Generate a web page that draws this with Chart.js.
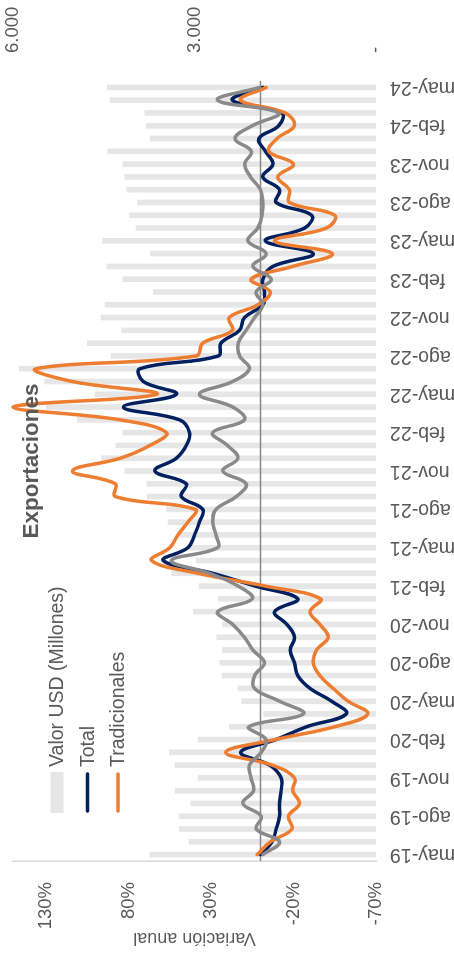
<!DOCTYPE html>
<html><head><meta charset="utf-8">
<script src="https://cdn.jsdelivr.net/npm/chart.js@4/dist/chart.umd.min.js"></script>
<style>
html,body{margin:0;padding:0;background:#fff;overflow:hidden;width:454px;height:957px;}
#wrap{position:absolute;left:0;top:0;width:957px;height:454px;transform-origin:0 0;transform:translate(0px,957px) rotate(-90deg);}
canvas{display:block;}
</style></head><body>
<div id="wrap"><canvas id="c" width="957" height="454"></canvas></div>
<script>
const categories = ['may-19','jun-19','jul-19','ago-19','sep-19','oct-19','nov-19','dic-19',
'ene-20','feb-20','mar-20','abr-20','may-20','jun-20','jul-20','ago-20','sep-20','oct-20','nov-20','dic-20',
'ene-21','feb-21','mar-21','abr-21','may-21','jun-21','jul-21','ago-21','sep-21','oct-21','nov-21','dic-21',
'ene-22','feb-22','mar-22','abr-22','may-22','jun-22','jul-22','ago-22','sep-22','oct-22','nov-22','dic-22',
'ene-23','feb-23','mar-23','abr-23','may-23','jun-23','jul-23','ago-23','sep-23','oct-23','nov-23','dic-23',
'ene-24','feb-24','mar-24','abr-24','may-24'];
const xTickLabels = ['may-19','ago-19','nov-19','feb-20','may-20','ago-20','nov-20','feb-21','may-21','ago-21',
'nov-21','feb-22','may-22','ago-22','nov-22','feb-23','may-23','ago-23','nov-23','feb-24','may-24'];
const valorUSD = [3740,3090,3250,3255,3060,3320,2940,3320,3415,2940,2425,1860,2220,2280,2545,2580,2540,2630,2535,3020,
2605,2925,3375,2975,3075,3240,3435,3460,3780,3790,4150,4535,4300,4185,4935,5445,4645,5480,5895,4380,
4770,4205,4545,4480,3680,4185,4450,3725,4520,3965,4075,3940,4120,4150,4185,4435,3735,3800,3820,4395,4440];
const total = [0,-7,-9.5,-11.5,-11.5,-12.5,-12.5,-5.5,12,-9.5,-28,-52,-43,-30,-22.6,-20.6,-18,-20.6,-16,-8.5,
-22.6,3,29,59,44,40,37,35,48,45,64,51,45,43,49,83,51,71,73,25.5,
24,12.7,9.7,-1.4,-2.4,-1.4,-7.5,-32,-3,-26.7,-31,-9.5,-11.5,-1.4,-7.5,-3,1,-11,-13,17,-1.4];
const tradicionales = [2,-6,-19,-17,-23.6,-19.6,-20.6,-7,21,-9,-45,-65,-53,-44,-36,-32,-34,-41,-36,-30,
-36.5,-3,38,66,55,50,44,39.5,88,88,114,85,67,57,85,150,63,114,136,39,
35,17,19,1.6,-5.9,5.7,-19.6,-43.5,-8.5,-40,-45,-17.5,-17.5,-10.5,-20,-5,-10,-20.5,-15,12,-3.4];
const noTradicionales = [-1.4,-11.5,2.6,-0.4,10.7,4.2,5.7,6.7,-0.4,-3.4,7,-26,-11.5,3.6,3.6,-2.4,4.6,9.7,16.8,25.9,
5,13.5,31,54,26,27,29,27,14.7,8.7,22.8,13.7,20,29,9.7,16.8,37,16.8,6.7,12.7,
13.5,8.7,3.6,-1.4,2.6,-6.5,4.6,-3.4,7.7,1.6,-1,-1.4,0,6,9.5,5.5,15.5,5,-11,26,0.6];
const pctTicks = [-70,-20,30,80,130];
const usdTicks = [0,3000,6000];

const FONT = '"Liberation Sans", Arial, sans-serif';
const TXT = '#595959';

const zeroLine = {
  id:'zeroLine',
  afterDatasetDraw(chart, args){
    if (args.index !== 0) return;
    const {ctx, chartArea:a, scales:{y}} = chart;
    const py = y.getPixelForValue(0);
    ctx.save(); ctx.strokeStyle='#868686'; ctx.lineWidth=1.5;
    ctx.beginPath(); ctx.moveTo(a.left,py); ctx.lineTo(a.right,py); ctx.stroke(); ctx.restore();
  }
};
const overlayTitle = {
  id:'overlayTitle',
  afterDraw(chart){
    const ctx = chart.ctx; ctx.save();
    ctx.font = 'bold 22.5px ' + FONT; ctx.fillStyle = TXT;
    ctx.textAlign = 'center'; ctx.textBaseline = 'alphabetic';
    ctx.fillText('Exportaciones', 496, 38); ctx.restore();
  }
};
const boxLegend = {
  id:'boxLegend',
  afterDraw(chart){
    const ctx = chart.ctx; const x0 = 144, keyW = 41, textX = 190; const rows = [57, 87.5, 118];
    let r = 0;
    chart.data.datasets.forEach(ds => {
      if (ds.hideInLegend) return;
      const yy = rows[r++];
      ctx.save();
      if (ds.type === 'line') {
        ctx.strokeStyle = ds.borderColor; ctx.lineWidth = 3.5; ctx.lineCap = 'round';
        ctx.beginPath(); ctx.moveTo(x0 + 2, yy); ctx.lineTo(x0 + keyW - 2, yy); ctx.stroke();
      } else {
        ctx.fillStyle = ds.backgroundColor; ctx.fillRect(x0, yy - 6.5, keyW, 13);
      }
      ctx.fillStyle = TXT; ctx.font = '19.5px ' + FONT; ctx.textBaseline = 'middle';
      ctx.fillText(ds.label, textX, yy + 1);
      ctx.restore();
    });
  }
};
const noPad = s => { s.paddingTop = 0; s.paddingBottom = 0; s.paddingLeft = 0; s.paddingRight = 0; };

new Chart(document.getElementById('c'), {
  type:'bar',
  data:{
    labels: categories,
    datasets:[
      {label:'Valor USD (Millones)', data:valorUSD, yAxisID:'y1', backgroundColor:'#E7E6E6', barThickness:5, order:4},
      {type:'line', label:'Total', data:total, yAxisID:'y', borderColor:'#002060', borderWidth:3.5, pointRadius:0, tension:0.4, borderCapStyle:'round', borderJoinStyle:'round', clip:6, order:3},
      {type:'line', label:'Tradicionales', data:tradicionales, yAxisID:'y', borderColor:'#ED7D31', borderWidth:3.5, pointRadius:0, tension:0.4, borderCapStyle:'round', borderJoinStyle:'round', clip:6, order:2},
      {type:'line', label:'No tradicionales', hideInLegend:true, data:noTradicionales, yAxisID:'y', borderColor:'#8A8A8A', borderWidth:3.5, pointRadius:0, tension:0.4, borderCapStyle:'round', borderJoinStyle:'round', clip:6, order:1}
    ]
  },
  options:{
    responsive:false, animation:false, devicePixelRatio:1,
    layout:{padding:{top:13,left:0,right:0,bottom:0}},
    plugins:{legend:{display:false}, tooltip:{enabled:false}, title:{display:false}},
    scales:{
      x:{
        grid:{display:false, drawTicks:false}, border:{display:false},
        ticks:{autoSkip:false, minRotation:90, maxRotation:90, padding:14, color:TXT, font:{family:FONT, size:19.5},
          callback:(v,i)=> xTickLabels.includes(categories[i]) ? categories[i] : ''},
        afterFit:s=>{ s.height = 78; noPad(s); }
      },
      y:{
        position:'left', min:-70, max:150,
        grid:{display:false, drawTicks:false}, border:{display:true, color:'#D9D9D9', width:1.5},
        afterBuildTicks:s=>{ s.ticks = pctTicks.map(v=>({value:v})); },
        ticks:{padding:21, color:TXT, font:{family:FONT, size:18.5}, callback:v=> v + '%'},
        title:{display:true, text:'Variación anual', color:TXT, font:{family:FONT, size:18}, padding:{top:8,bottom:0}},
        afterFit:s=>{ s.width = 96; noPad(s); }
      },
      y1:{
        position:'right', min:0, max:6000,
        grid:{display:false, drawTicks:false}, border:{display:false},
        afterBuildTicks:s=>{ s.ticks = usdTicks.map(v=>({value:v})); },
        ticks:{padding:28, color:TXT, font:{family:FONT, size:18.5},
          callback:v=> v === 0 ? '-' : String(v).replace(/\B(?=(\d{3})+(?!\d))/g,'.')},
        afterFit:s=>{ s.width = 81; noPad(s); }
      }
    }
  },
  plugins:[zeroLine, overlayTitle, boxLegend]
});
</script>
</body></html>
